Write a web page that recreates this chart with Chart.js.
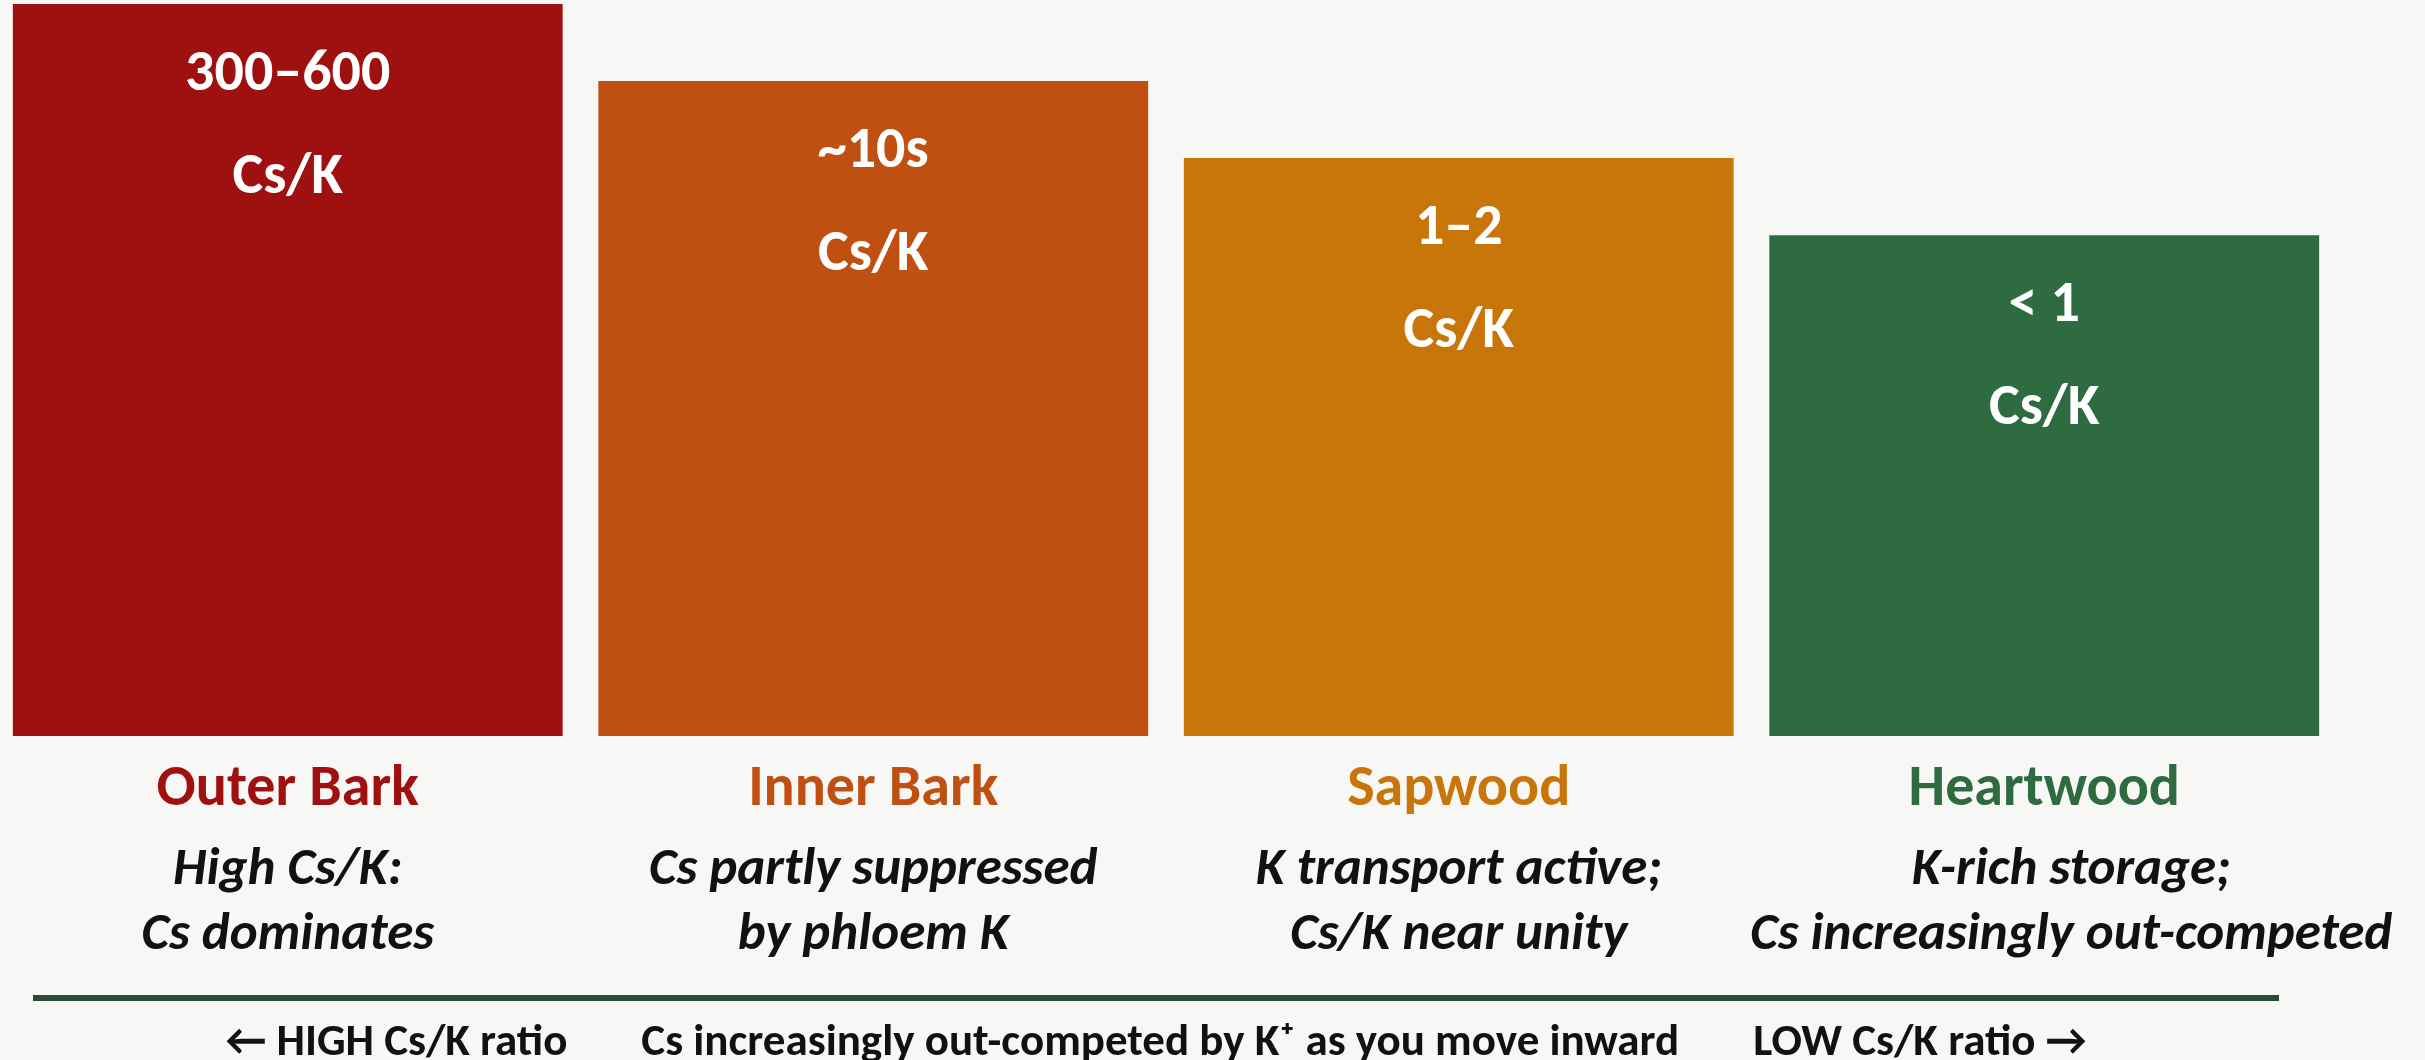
<!DOCTYPE html>
<html><head><meta charset="utf-8">
<script src="https://cdn.jsdelivr.net/npm/chart.js@4.4.0/dist/chart.umd.min.js"></script>
<style>
html,body{margin:0;padding:0;background:#f7f7f5;overflow:hidden;width:2425px;height:1060px}
#wrap{position:absolute;left:-5px;top:0;width:2430px;height:1060px}
</style></head><body><div id="wrap"><canvas id="c" width="2430" height="1060"></canvas></div>
<script>
const categories = ['Outer Bark', 'Inner Bark', 'Sapwood', 'Heartwood'];
const barValues = [95, 85, 75, 65];
const ratioLabels = ['300–600', '~10s', '1–2', '< 1'];
const unitLabel = 'Cs/K';
const descLine1 = ['High Cs/K:', 'Cs partly suppressed', 'K transport active;', 'K-rich storage;'];
const descLine2 = ['Cs dominates', 'by phloem K', 'Cs/K near unity', 'Cs increasingly out-competed'];
const barColors = ['#9f1010', '#bf5011', '#c8760a', '#2f6b41'];
const footerTexts = ['← HIGH Cs/K ratio', 'Cs increasingly out-competed by K⁺ as you move inward', 'LOW Cs/K ratio →'];

const FONT = "Carlito, Calibri, Lato, sans-serif";
const OFFSET_X = 5; // canvas shifted left by 5px in the page

const labelPlugin = {
  id: 'labels',
  afterDatasetsDraw(chart) {
    const ctx = chart.ctx;
    const meta = chart.getDatasetMeta(0);
    const xs = chart.scales.x;
    ctx.save();
    ctx.textAlign = 'center';
    ctx.textBaseline = 'alphabetic';
    meta.data.forEach((bar, i) => {
      const cx = xs.getPixelForValue(i);
      ctx.fillStyle = '#ffffff';
      ctx.font = `bold 58px ${FONT}`;
      ctx.fillText(ratioLabels[i], cx, bar.y + 86);
      ctx.fillText(unitLabel, cx, bar.y + 189);
      // category name
      ctx.fillStyle = barColors[i];
      ctx.font = `bold 58px ${FONT}`;
      ctx.fillText(categories[i], cx, 805);
      // description
      ctx.fillStyle = '#111111';
      ctx.font = `italic bold 53px ${FONT}`;
      const dx = i === categories.length - 1 ? 27 : 0;
      ctx.fillText(descLine1[i], cx + dx, 884);
      ctx.fillText(descLine2[i], cx + dx, 949);
    });
    // divider line
    ctx.strokeStyle = '#2a4a3a';
    ctx.lineWidth = 6;
    ctx.beginPath();
    ctx.moveTo(33 + OFFSET_X, 998);
    ctx.lineTo(2279 + OFFSET_X, 998);
    ctx.stroke();
    // footer row
    ctx.fillStyle = '#111111';
    ctx.font = `bold 45px ${FONT}`;
    ctx.textAlign = 'left';
    const gap = 74;
    const widths = footerTexts.map(t => ctx.measureText(t).width);
    const total = widths.reduce((a, b) => a + b, 0) + gap * (footerTexts.length - 1);
    let x = 1156 + OFFSET_X - total / 2;
    footerTexts.forEach((t, i) => {
      ctx.fillText(t, x, 1055);
      x += widths[i] + gap;
    });
    ctx.restore();
  }
};

new Chart(document.getElementById('c'), {
  type: 'bar',
  data: {
    labels: categories,
    datasets: [{
      data: barValues,
      backgroundColor: barColors,
      borderWidth: 0,
      barPercentage: 0.939,
      categoryPercentage: 1.0
    }]
  },
  options: {
    responsive: false,
    devicePixelRatio: 1,
    animation: false,
    layout: { padding: { left: 0, right: 88, top: 4, bottom: 324 } },
    plugins: { legend: { display: false }, tooltip: { enabled: false } },
    scales: {
      x: { display: false, offset: true },
      y: { display: false, min: 0, max: 95 }
    }
  },
  plugins: [labelPlugin]
});
</script></body></html>
